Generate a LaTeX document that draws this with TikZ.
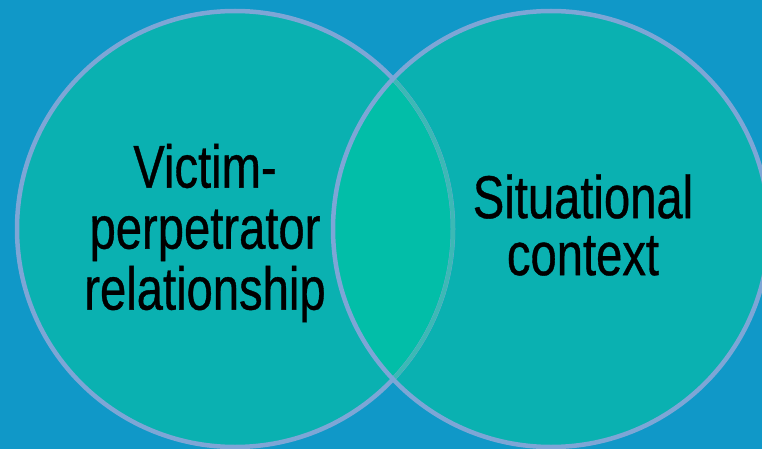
\documentclass[tikz,border=0pt]{standalone}
\usepackage{fontspec}
\setmainfont{Liberation Sans}[FakeStretch=0.78,FakeBold=0.6]
\definecolor{bgblue}{HTML}{1098C8}
\definecolor{discfill}{HTML}{0AB1B1}
\definecolor{overlapfill}{HTML}{02BEA8}
\definecolor{ringcol}{HTML}{7DA6D6}
\definecolor{faintring}{HTML}{3CB9B5}
\begin{document}
\begin{tikzpicture}[x=1pt,y=-1pt,
  disc/.style={fill=discfill},
  ring/.style={draw=ringcol,line width=4.5pt},
  innerring/.style={draw=faintring,line width=4pt},
  label/.style={text=black,align=center,inner sep=0pt}]
  \fill[bgblue] (0,0) rectangle (762,449);
  \useasboundingbox (0,0) rectangle (762,449);
  \coordinate (L) at (235,229);
  \coordinate (R) at (551,229);
  % the two discs
  \path[disc] (L) circle[radius=218pt];
  \path[disc] (R) circle[radius=218pt];
  % overlap lens
  \begin{scope}
    \clip (L) circle[radius=218pt];
    \fill[overlapfill] (R) circle[radius=218pt];
  \end{scope}
  % outlines
  \path[ring] (L) circle[radius=218pt];
  \begin{scope}
    \clip (R) circle[radius=218pt];
    \path[innerring] (L) circle[radius=218pt];
  \end{scope}
  \path[ring] (R) circle[radius=218pt];
  % captions
  \node[label,font=\fontsize{60.5}{61}\selectfont] (victim) at (205,233)
    {Victim-\\perpetrator\\relationship};
  \node[label,font=\fontsize{60.5}{57}\selectfont] (situation) at (583,225)
    {Situational\\context};
\end{tikzpicture}
\end{document}
